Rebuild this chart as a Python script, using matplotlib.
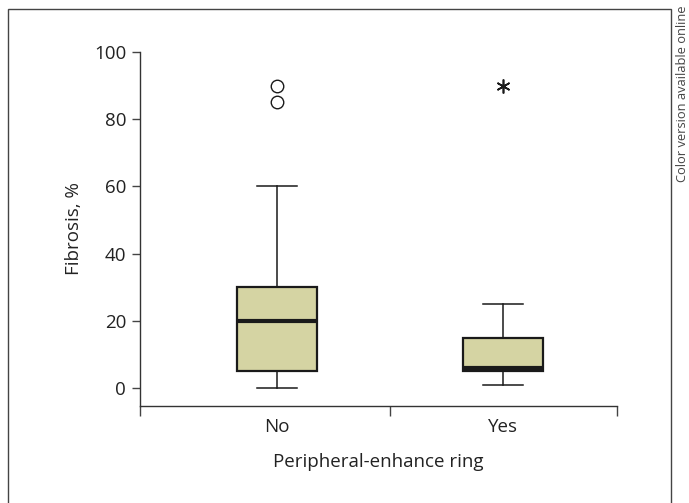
#!/usr/bin/env python
import matplotlib
matplotlib.use('Agg')
import matplotlib.pyplot as plt
from matplotlib.patches import Rectangle

plt.rcParams['font.family'] = ['Open Sans', 'DejaVu Sans']

# data (fibrosis %)
groups = ['No', 'Yes']
whislo = [0, 1]
q1 = [5, 5]
med = [20, 6]
q3 = [30, 15]
whishi = [60, 25]
outliers = [[85, 90], []]      # circles
extremes = [[], [90]]          # asterisks

box_color = '#d5d4a3'
ink = '#1a1a1a'
fs = 13.5

fig = plt.figure(figsize=(6.89, 5.03), dpi=100)
ax = fig.add_axes([140/689, 1-406/503, (617-140)/689, (406-52)/503])

stats = []
for i in range(len(groups)):
    stats.append(dict(label=groups[i], whislo=whislo[i], q1=q1[i], med=med[i],
                      q3=q3[i], whishi=whishi[i], fliers=outliers[i]))

ax.bxp(stats, positions=[1, 2], widths=0.353, patch_artist=True,
       boxprops=dict(facecolor=box_color, edgecolor=ink, linewidth=1.6),
       medianprops=dict(color=ink, linewidth=3),
       whiskerprops=dict(color=ink, linewidth=1.1),
       capprops=dict(color=ink, linewidth=1.1),
       capwidths=0.177,
       flierprops=dict(marker='o', markersize=9, markerfacecolor='white',
                       markeredgecolor=ink, markeredgewidth=1))

for i in range(len(groups)):
    for v in extremes[i]:
        ax.plot(i + 1, v, linestyle='none', marker=(6, 2, 0), markersize=10,
                color=ink, markeredgewidth=1.2)

ax.set_xlim(0.396, 2.504)
ax.set_ylim(-5.36, 100)
ax.set_yticks([0, 20, 40, 60, 80, 100])
ax.set_xticks([1, 2])
ax.set_xticklabels(groups)
ax.set_xticks([0.396, 1.5, 2.504], minor=True)
ax.tick_params(axis='x', which='major', length=0, labelsize=fs, pad=9, colors='#222222')
ax.tick_params(axis='x', which='minor', length=7, width=1, color='#444444')
ax.tick_params(axis='y', length=6, width=1, labelsize=fs, pad=4, color='#444444', labelcolor='#222222')

for s in ['top', 'right']:
    ax.spines[s].set_visible(False)
for s in ['left', 'bottom']:
    ax.spines[s].set_color('#333333')
    ax.spines[s].set_linewidth(1)

ax.set_ylabel('Fibrosis, %', fontsize=fs, color='#222222', labelpad=8)
ax.set_xlabel('Peripheral-enhance ring', fontsize=fs, color='#222222', labelpad=12)

# outer frame and side note
fig.patches.append(Rectangle((8/689, -0.05), (671-8)/689, 1.05-9/503,
                             transform=fig.transFigure, fill=False,
                             edgecolor='#444444', linewidth=1))
fig.text(682/689, 1-5/503, 'Color version available online', rotation=90,
         ha='center', va='top', fontsize=9.3, color='#444444')

fig.savefig('out.png', dpi=100)
